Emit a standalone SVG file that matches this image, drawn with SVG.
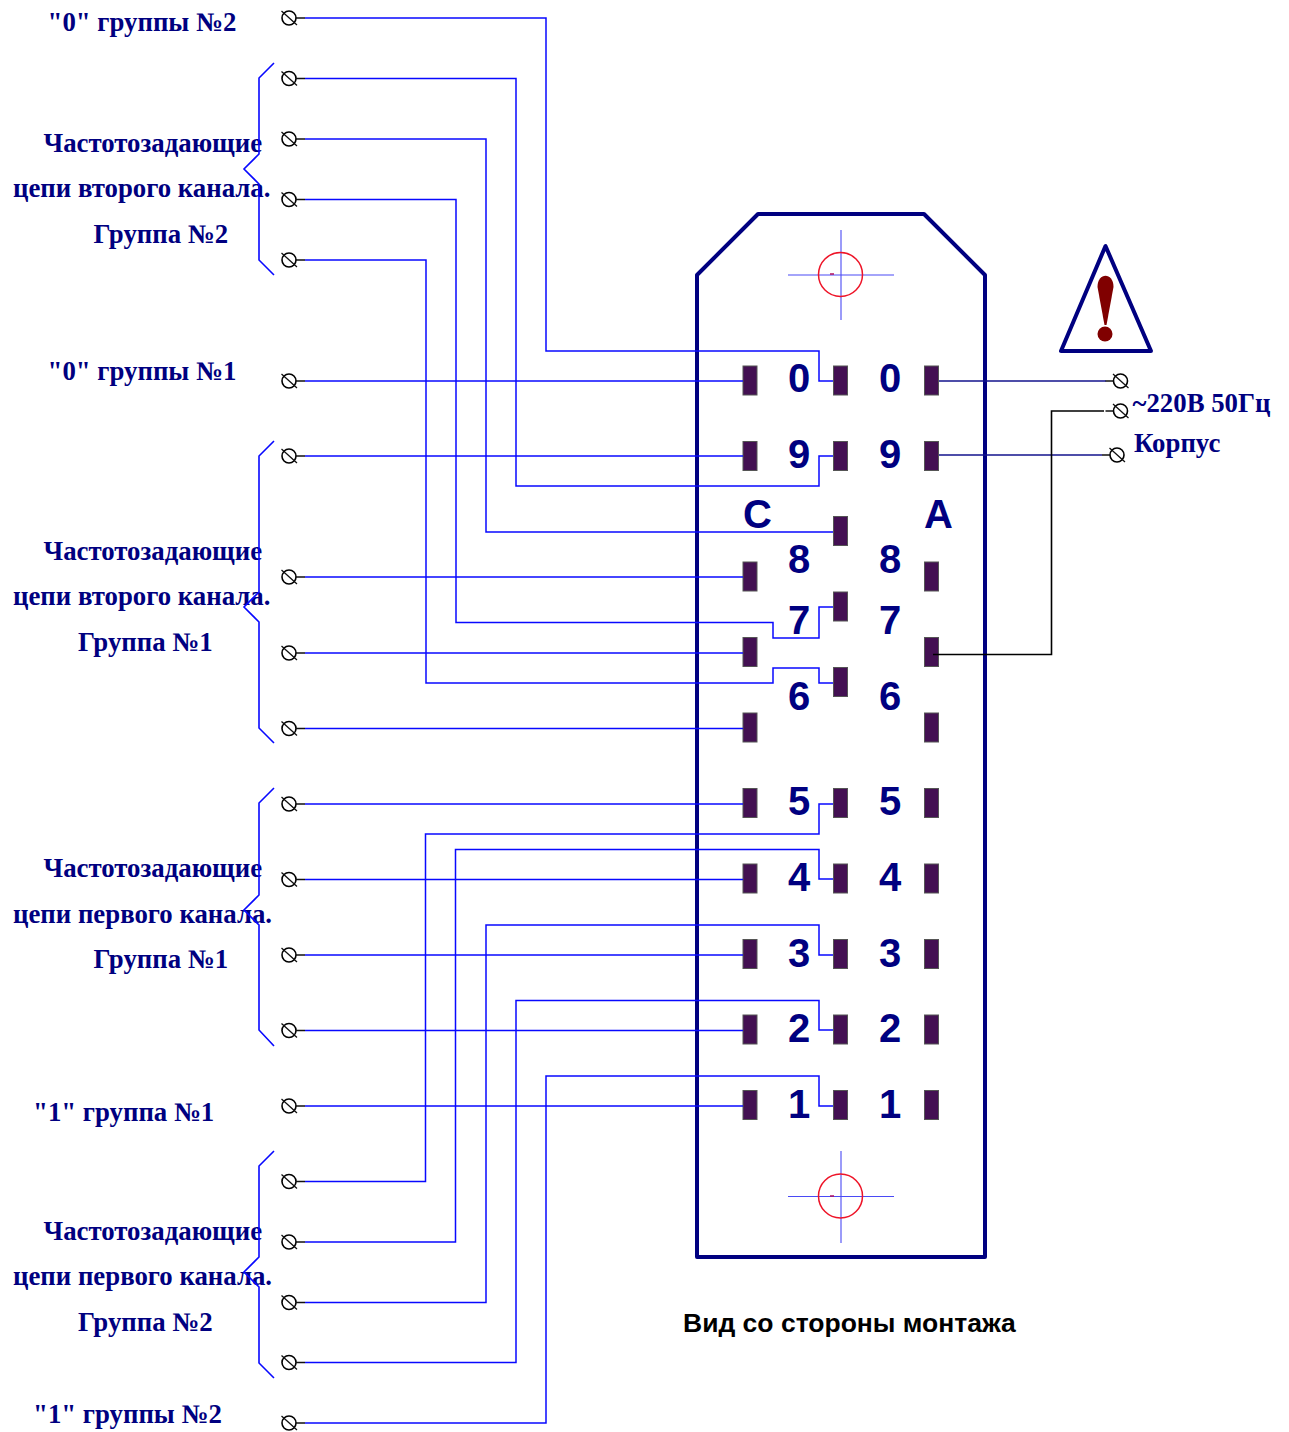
<svg xmlns="http://www.w3.org/2000/svg" width="1289" height="1432" viewBox="0 0 1289 1432">
<style>
.w{fill:none;stroke:#0808ff;stroke-width:1.5}
.d{fill:none;stroke:#12128c;stroke-width:1.6}
.k{fill:none;stroke:#000;stroke-width:1.6}
.b{fill:none;stroke:#0808ff;stroke-width:1.6}
.l{font-family:"Liberation Serif",serif;font-weight:bold;font-size:26.800px;fill:#000080}
.n{font-family:"Liberation Sans",sans-serif;font-weight:bold;font-size:40px;fill:#000080;text-anchor:middle}
.p{fill:#431052;stroke:#555;stroke-width:1}
.ch{stroke:#4a4af5;stroke-width:1.1;fill:none}
.rc{stroke:#ee1428;stroke-width:1.5;fill:none}
</style>
<defs>
<g id="t"><circle cx="0" cy="0" r="7" fill="#fff" stroke="#000" stroke-width="1.6"/><path d="M-7.500-7 8 7M7 0H16" fill="none" stroke="#111" stroke-width="1.3"/></g>
<g id="tr"><circle cx="0" cy="0" r="7" fill="#fff" stroke="#000" stroke-width="1.6"/><path d="M-7.500-7 8 7M-7 0H-15" fill="none" stroke="#111" stroke-width="1.3"/></g>
<rect id="pin" x="0" y="-14.500" width="14" height="29" class="p"/>
</defs>
<g id="connector-body">
<path d="M697 275 758 214H924L985 275V1257H697Z" fill="none" stroke="#000080" stroke-width="4" stroke-linejoin="round"/>
<path class="ch" d="M788 275H894M841 230V320"/><circle class="rc" cx="840.500" cy="274.500" r="22"/><path d="M830 274H834" stroke="#b01060" stroke-width="1.5"/>
<path class="ch" d="M788 1196.500H894M841 1151V1243"/><circle class="rc" cx="840.500" cy="1196" r="22"/><path d="M830 1196H834" stroke="#b01060" stroke-width="1.5"/>
</g>
<g id="pins">
<use href="#pin" x="743" y="380.500"/><use href="#pin" x="743" y="456"/><use href="#pin" x="743" y="576.500"/><use href="#pin" x="743" y="652"/><use href="#pin" x="743" y="727.500"/><use href="#pin" x="743" y="803"/><use href="#pin" x="743" y="878.500"/><use href="#pin" x="743" y="954"/><use href="#pin" x="743" y="1029.500"/><use href="#pin" x="743" y="1105"/>
<use href="#pin" x="833.500" y="380.500"/><use href="#pin" x="833.500" y="456"/><use href="#pin" x="833.500" y="531"/><use href="#pin" x="833.500" y="606.500"/><use href="#pin" x="833.500" y="682"/><use href="#pin" x="833.500" y="803"/><use href="#pin" x="833.500" y="878.500"/><use href="#pin" x="833.500" y="954"/><use href="#pin" x="833.500" y="1029.500"/><use href="#pin" x="833.500" y="1105"/>
<use href="#pin" x="924.500" y="380.500"/><use href="#pin" x="924.500" y="456"/><use href="#pin" x="924.500" y="576.500"/><use href="#pin" x="924.500" y="652"/><use href="#pin" x="924.500" y="727.500"/><use href="#pin" x="924.500" y="803"/><use href="#pin" x="924.500" y="878.500"/><use href="#pin" x="924.500" y="954"/><use href="#pin" x="924.500" y="1029.500"/><use href="#pin" x="924.500" y="1105"/>
</g>
<g id="connectors">
<path class="w" d="M305 18H546V351H819V381H833"/>
<path class="w" d="M305 78.500H516V486H819V456H833"/>
<path class="w" d="M305 139H486V532H833"/>
<path class="w" d="M305 199.500H456V622.500H773V638H819V607H833"/>
<path class="w" d="M305 260H426V683H773V668H819V683H833"/>
<path class="w" d="M305 381H743"/>
<path class="w" d="M305 456H743"/>
<path class="w" d="M305 577H743"/>
<path class="w" d="M305 653H743"/>
<path class="w" d="M305 728.500H743"/>
<path class="w" d="M305 804H743"/>
<path class="w" d="M305 879.500H743"/>
<path class="w" d="M305 955H743"/>
<path class="w" d="M305 1030.500H743"/>
<path class="w" d="M305 1106H743"/>
<path class="w" d="M305 1181.500H425.500V834H819V804H833"/>
<path class="w" d="M305 1242H455.500V849.500H819V879H833"/>
<path class="w" d="M305 1302.500H486V925H819V955H833"/>
<path class="w" d="M305 1362.500H516V1000.500H819V1030H833"/>
<path class="w" d="M305 1423H546V1076H819V1106H833"/>
<path class="d" d="M939 381H1106"/>
<path class="d" d="M939 455H1102"/>
<path class="k" d="M933 654.500H1051.500V411H1104"/>
</g>
<g id="numbers">
<text class="n" x="799" y="392">0</text><text class="n" x="890" y="392">0</text>
<text class="n" x="799" y="468">9</text><text class="n" x="890" y="468">9</text>
<text class="n" x="757.500" y="528">C</text><text class="n" x="938.500" y="528">A</text>
<text class="n" x="799" y="573">8</text><text class="n" x="890" y="573">8</text>
<text class="n" x="799" y="634">7</text><text class="n" x="890" y="634">7</text>
<text class="n" x="799" y="710">6</text><text class="n" x="890" y="710">6</text>
<text class="n" x="799" y="815">5</text><text class="n" x="890" y="815">5</text>
<text class="n" x="799" y="891">4</text><text class="n" x="890" y="891">4</text>
<text class="n" x="799" y="967">3</text><text class="n" x="890" y="967">3</text>
<text class="n" x="799" y="1042">2</text><text class="n" x="890" y="1042">2</text>
<text class="n" x="799" y="1118">1</text><text class="n" x="890" y="1118">1</text>
</g>
<g id="terminals">
<use href="#t" x="289" y="18"/><use href="#t" x="289" y="78.500"/><use href="#t" x="289" y="139"/><use href="#t" x="289" y="199.500"/><use href="#t" x="289" y="260"/><use href="#t" x="289" y="381"/><use href="#t" x="289" y="456"/><use href="#t" x="289" y="577"/><use href="#t" x="289" y="653"/><use href="#t" x="289" y="728.500"/><use href="#t" x="289" y="804"/><use href="#t" x="289" y="879.500"/><use href="#t" x="289" y="955"/><use href="#t" x="289" y="1030.500"/><use href="#t" x="289" y="1106"/><use href="#t" x="289" y="1181.500"/><use href="#t" x="289" y="1242"/><use href="#t" x="289" y="1302.500"/><use href="#t" x="289" y="1362.500"/><use href="#t" x="289" y="1423"/>
<use href="#tr" x="1120.500" y="381"/><use href="#tr" x="1120.500" y="411"/><use href="#tr" x="1117" y="455"/>
</g>
<g id="warning">
<path d="M1105.500 246 1061 351H1151Z" fill="none" stroke="#000080" stroke-width="4" stroke-linejoin="round"/>
<path d="M1097.500 287C1097.500 272 1113.500 272 1113.500 287L1106.500 325H1104.500Z" fill="#800000"/>
<circle cx="1105" cy="334" r="7.500" fill="#800000"/>
</g>
<g id="labels">
<text class="l" x="47.500" y="31">"0" группы №2</text>
<text class="l" x="43.500" y="152">Частотозадающие</text>
<text class="l" x="13" y="197">цепи второго канала.</text>
<text class="l" x="93.500" y="243">Группа №2</text>
<text class="l" x="47.500" y="380">"0" группы №1</text>
<text class="l" x="43.500" y="560">Частотозадающие</text>
<text class="l" x="13" y="605">цепи второго канала.</text>
<text class="l" x="78" y="651">Группа №1</text>
<text class="l" x="43.500" y="877">Частотозадающие</text>
<text class="l" x="13" y="923">цепи первого канала.</text>
<text class="l" x="93.500" y="968">Группа №1</text>
<text class="l" x="33" y="1121">"1" группа №1</text>
<text class="l" x="43.500" y="1240">Частотозадающие</text>
<text class="l" x="13" y="1285">цепи первого канала.</text>
<text class="l" x="78" y="1331">Группа №2</text>
<text class="l" x="33" y="1423">"1" группы №2</text>
<text class="l" x="1132.500" y="412">~220В 50Гц</text>
<text class="l" x="1134" y="452">Корпус</text>
<text x="683" y="1332" font-family="Liberation Sans, sans-serif" font-weight="bold" font-size="26.500" fill="#000">Вид со стороны монтажа</text>
</g>
<g id="braces">
<path class="b" d="M274 63 259 78V154L244 169 259 184V260L274 275"/>
<path class="b" d="M274 441 259 456V592L244 607 259 622V728L274 743"/>
<path class="b" d="M274 788 259 803V895L244 910 259 925V1030L274 1046"/>
<path class="b" d="M274 1151 259 1166V1257L244 1272 259 1287V1363L274 1378"/>
</g>
</svg>
